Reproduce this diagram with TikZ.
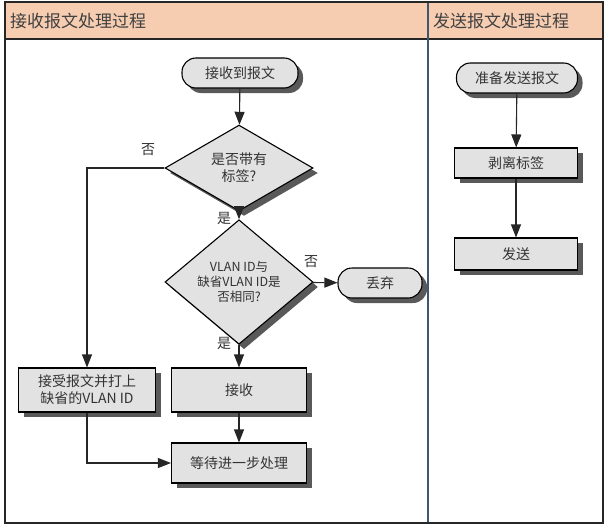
\documentclass[tikz,border=0pt]{standalone}
\usepackage{fontspec}
\setmainfont{Noto Sans CJK SC}
\usetikzlibrary{shapes.geometric,arrows.meta,shadows}
\definecolor{headfill}{HTML}{F6CDB1}
\definecolor{boxgray}{HTML}{E2E2E2}
\definecolor{txt}{HTML}{333333}
\definecolor{divider}{HTML}{3E5670}
\tikzset{
  shad/.style={drop shadow={shadow xshift=5pt, shadow yshift=-5pt, fill=black!65, opacity=1}},
  term/.style={rectangle, rounded corners=14pt, draw=black, line width=1.1pt, fill=boxgray, minimum height=30pt, text=txt, font=\fontsize{14pt}{16pt}\selectfont, shad},
  proc/.style={rectangle, draw=black, line width=1.1pt, fill=boxgray, text=txt, font=\fontsize{14pt}{17pt}\selectfont, align=center, shad},
  dec/.style={diamond, draw=black, line width=1.1pt, fill=boxgray, text=txt, inner sep=0pt, align=center, shad},
  arr/.style={draw=black!85, line width=1.1pt, -{Triangle[width=10pt,length=13pt]}},
  lab/.style={text=txt, font=\fontsize{14pt}{16pt}\selectfont, inner sep=0pt},
  head/.style={text=black!75, font=\fontsize{17pt}{19pt}\selectfont, anchor=west, inner sep=0pt}
}
\begin{document}
\begin{tikzpicture}[x=1pt,y=-1pt]
\useasboundingbox (0,0) rectangle (607,527);
\fill[white] (0,0) rectangle (607,527);
\fill[headfill] (5,2) rectangle (603,39);
\draw[line width=1.8pt, black!85] (5,39) -- (603,39);
\draw[line width=1.8pt, divider] (428,2) -- (428,523);
\draw[line width=1.8pt, black!85] (5,2) rectangle (603,523);
\node[head] (h1) at (10,21) {接收报文处理过程};
\node[head] (h2) at (433,21) {发送报文处理过程};

% left lane
\node[term, minimum width=116pt] (t1) at (240,73) {接收到报文};
\node[dec, minimum width=148pt, minimum height=80pt, font=\fontsize{14pt}{17pt}\selectfont] (d1) at (239,168) {是否带有\\标签?};
\node[dec, minimum width=148pt, minimum height=102pt, font=\fontsize{12.5pt}{15pt}\selectfont] (d2) at (239,282) {VLAN ID与\\缺省VLAN ID是\\否相同?};
\node[term, minimum width=84pt] (drop) at (380,283) {丢弃};
\node[proc, minimum width=137pt, minimum height=44pt] (acc) at (87,390) {接受报文并打上\\缺省的VLAN ID};
\node[proc, minimum width=135pt, minimum height=44pt] (recv) at (239,390) {接收};
\node[proc, minimum width=135pt, minimum height=40pt] (wait) at (239,463) {等待进一步处理};

\draw[arr] (t1) -- (d1);
\draw[arr] (d1) -- (d2);
\draw[arr] (d2) -- (drop);
\draw[arr] (d2) -- (recv);
\draw[arr] (d1.west) -| (acc.north);
\draw[arr] (acc.south) |- (wait.west);
\draw[arr] (recv) -- (wait);

\node[lab] (n1) at (148,150) {否};
\node[lab] (y1) at (224,218) {是};
\node[lab] (n2) at (311,262) {否};
\node[lab] (y2) at (224,343) {是};

% right lane
\node[term, minimum width=121pt] (prep) at (517,78) {准备发送报文};
\node[proc, minimum width=123pt, minimum height=30pt] (strip) at (516,163) {剥离标签};
\node[proc, minimum width=123pt, minimum height=32pt] (send) at (516,254) {发送};
\draw[arr] (prep) -- (strip);
\draw[arr] (strip) -- (send);
\end{tikzpicture}
\end{document}
